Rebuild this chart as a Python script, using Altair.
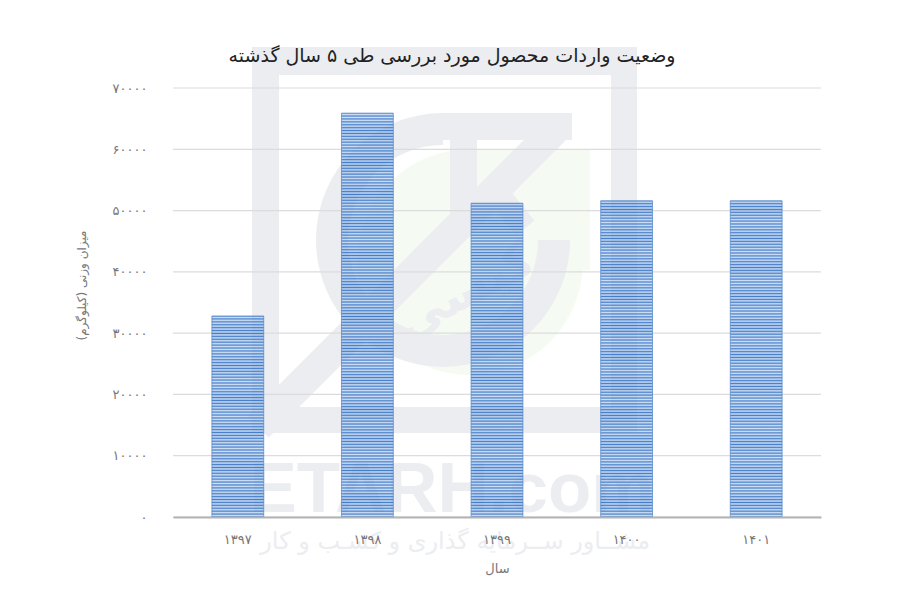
import altair as alt
import pandas as pd

years = ["۱۳۹۷", "۱۳۹۸", "۱۳۹۹", "۱۴۰۰", "۱۴۰۱"]
values = [32800, 65900, 51200, 51600, 51600]
y_ticks = [0, 10000, 20000, 30000, 40000, 50000, 60000, 70000]
y_tick_labels = ["۰", "۱۰۰۰۰", "۲۰۰۰۰", "۳۰۰۰۰", "۴۰۰۰۰", "۵۰۰۰۰", "۶۰۰۰۰", "۷۰۰۰۰"]

title_text = "وضعیت واردات محصول مورد بررسی طی ۵ سال گذشته"
x_title = "سال"
y_title = "میزان وزنی (کیلوگرم)"
wm_latin = "ETARH.com"
wm_persian = "مشــاور ســرمایه گذاری و کسـب و کار"
wm_word = "کیسی"

W, H = 648, 429
OX, OY = 173, 88
FONT = "DejaVu Sans"
WM = "#ebedf0"
GREEN = "#f5fbf3"
one = pd.DataFrame({"a": [0]})


def box(x1, y1, x2, y2, color=WM):
    return alt.Chart(one).mark_rect(color=color).encode(
        x=alt.value(x1 - OX), x2=alt.value(x2 - OX),
        y=alt.value(y1 - OY), y2=alt.value(y2 - OY))


def ring(cx, cy, r0, r1, t0, t1, color=WM):
    return alt.Chart(one).mark_arc(color=color, innerRadius=r0, outerRadius=r1, theta=t0, theta2=t1).encode(
        x=alt.value(cx - OX), y=alt.value(cy - OY))


def band(x1, y1, x2, y2, w):
    return alt.Chart(one).mark_rule(color=WM, strokeWidth=w, strokeCap="butt").encode(
        x=alt.value(x1 - OX), x2=alt.value(x2 - OX),
        y=alt.value(y1 - OY), y2=alt.value(y2 - OY))


def label(text, x, y, size, weight="normal", angle=0, font=FONT, align="center"):
    return alt.Chart(one).mark_text(text=text, font=font, fontSize=size, fontWeight=weight,
                                    color=WM, angle=angle, align=align, baseline="alphabetic").encode(
        x=alt.value(x - OX), y=alt.value(y - OY))


PI = 3.14159265
watermark = [
    box(484, 150, 590, 270, GREEN),
    ring(470, 262, 0, 113, 0, 2 * PI, GREEN),
    box(252, 47, 637, 75),
    box(252, 47, 279, 433),
    box(611, 47, 637, 433),
    box(252, 407, 637, 433),
    ring(443, 240, 95, 127, PI / 2, 2 * PI),
    box(443, 113, 572, 140),
    box(450, 140, 477, 225),
    band(555, 130, 258, 427, 30),
    band(488, 182, 525, 228, 24),
    label(wm_word, 472, 305, 50, "bold", 332),
    label(wm_latin, 452, 512, 71, "bold", font="Liberation Sans"),
    label(wm_persian, 650, 549, 24, align="right"),
]

ys = alt.Y("v:Q", scale=alt.Scale(domain=[0, 70000], nice=False),
           axis=alt.Axis(values=y_ticks, grid=False, ticks=False, domain=False, zindex=1,
                         labelExpr="{" + ",".join(f"'{t}':'{l}'" for t, l in zip(y_ticks, y_tick_labels)) + "}[datum.value]",
                         labelFont=FONT, labelFontSize=13, labelColor="#777777", labelPadding=26,
                         title=y_title, titleFont=FONT, titleFontSize=12, titleFontWeight="normal",
                         titleColor="#777777", titleX=-85, titleY=197))
xs = alt.X("y:N", sort=years, scale=alt.Scale(domain=years, paddingInner=0.6, paddingOuter=0.3),
           axis=alt.Axis(labelAngle=0, ticks=False, domainColor="#b3b3b3", domainWidth=2, zindex=1,
                         labelFont=FONT, labelFontSize=13, labelColor="#777777", labelPadding=16,
                         title=x_title, titleFont=FONT, titleFontSize=13, titleFontWeight="normal",
                         titleColor="#777777", titlePadding=16))

grid = alt.Chart(pd.DataFrame({"v": y_ticks})).mark_rule(color="#dcdcdc", strokeWidth=1.2).encode(y=ys)


def stripes(value):
    h = value / 70000 * H
    n = max(1, round(h / 2.9))
    stops = []
    for i in range(n):
        stops += [alt.GradientStop(color="rgba(50,112,196,0.9)", offset=i / n),
                  alt.GradientStop(color="rgba(175,203,238,0.62)", offset=(i + 0.5) / n)]
    stops.append(alt.GradientStop(color="rgba(50,112,196,0.9)", offset=1))
    return alt.Gradient(gradient="linear", stops=stops, x1=0, x2=0, y1=0, y2=1)


bars = [
    alt.Chart(pd.DataFrame({"y": [yr], "v": [val]})).mark_bar(
        color=stripes(val), stroke="#4f83c6", strokeWidth=1, strokeOpacity=0.7
    ).encode(x=xs, y=ys)
    for yr, val in zip(years, values)
]

chart = alt.layer(*watermark, grid, *bars).properties(
    width=W, height=H,
    autosize=alt.AutoSizeParams(type="none"),
    padding={"left": OX - 8, "top": OY - 8, "right": 64, "bottom": 70},
    background="white",
    title=alt.TitleParams(title_text, font=FONT, fontSize=19, fontWeight="normal", color="#222222",
                          anchor="middle", offset=-19, dx=-45),
).configure_view(stroke=None)

chart.save("out.html", embed_options={"renderer": "svg", "actions": False})
